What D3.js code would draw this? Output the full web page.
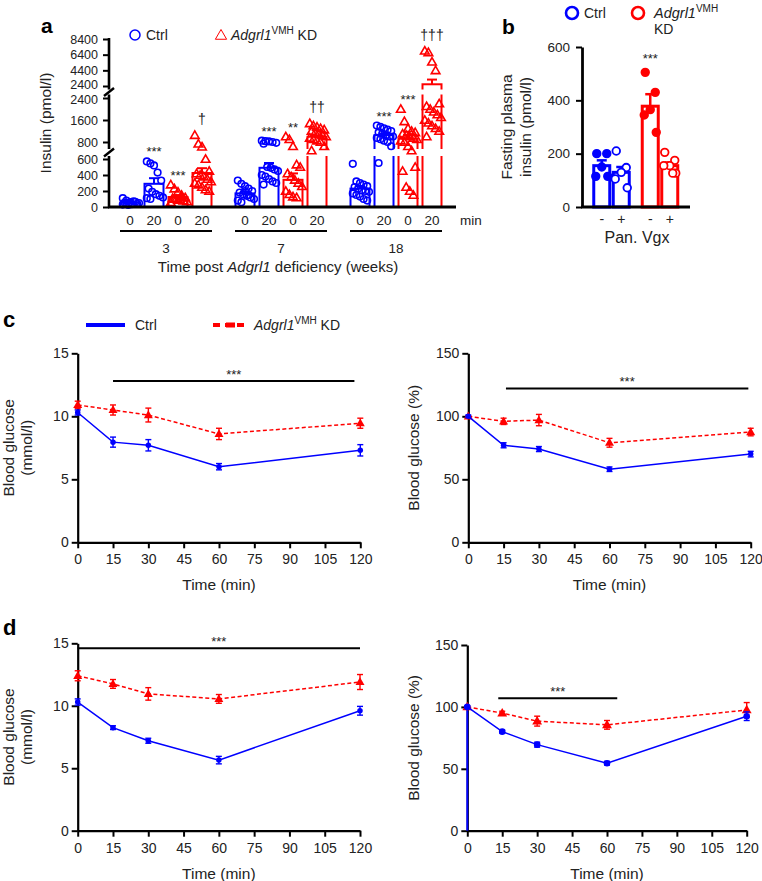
<!DOCTYPE html>
<html><head><meta charset="utf-8">
<script src="https://cdn.jsdelivr.net/npm/d3@7"></script>
<style>body{margin:0;background:#fff} svg{display:block}</style>
</head><body>
<script>
// ================= DATA =================
// Panel a: insulin (pmol/l); order per series: [3w 0min, 3w 20min, 7w 0min, 7w 20min, 18w 0min, 18w 20min]
const aWeeks = ["3", "7", "18"];
const aBars = ["Ctrl 0", "Ctrl 20", "KD 0", "KD 20"];
const aMinLabels = ["0", "20", "0", "20"];
const aTicksLo = [0, 200, 400, 600];
const aTicksMid = [800, 1600, 2400];
const aTicksTop = [2400, 4400, 6400, 8400];
const aCtrlMean = [55, 290, 170, 490, 230, 1050];
const aCtrlSem = [10, 70, 22, 60, 30, 60];
const aKdMean = [125, 425, 340, 990, 920, 2620];
const aKdSem = [22, 60, 80, 50, 130, 600];
const aCtrlPts = [
  [30, 45, 60, 70, 40, 55, 25, 35, 65, 50, 110, 80],
  [570, 545, 520, 430, 330, 230, 190, 160, 140, 120, 110, 100],
  [330, 290, 260, 230, 200, 180, 160, 140, 120, 100, 80, 60, 200, 150],
  [850, 830, 820, 800, 790, 780, 500, 490, 470, 450, 400, 380, 350, 320, 300, 280],
  [540, 320, 300, 280, 260, 250, 230, 210, 200, 190, 170, 150, 130, 100, 80],
  [1400, 1350, 1300, 1250, 1200, 1150, 1100, 1050, 1000, 1000, 950, 900, 850, 800, 750, 550]
];
const aKdPts = [
  [280, 230, 190, 150, 120, 110, 100, 90, 80, 70, 60, 100, 90, 130],
  [1050, 780, 745, 600, 450, 420, 400, 380, 350, 320, 300, 280, 250, 220, 200],
  [1000, 900, 750, 530, 500, 420, 380, 340, 300, 260, 200, 160, 130, 120],
  [1480, 1400, 1350, 1300, 1250, 1200, 1150, 1100, 1050, 1000, 950, 900, 850, 800, 750, 700],
  [2000, 1550, 1300, 1200, 1150, 1100, 1050, 1000, 950, 900, 850, 800, 750, 700, 500, 450, 250, 200, 150],
  [6900, 6700, 5500, 4400, 2200, 2100, 2000, 1900, 1800, 1700, 1600, 1500, 1400, 1300, 1200, 1000]
];
const aCtrlSig = ["", "***", "", "***", "", "***"];
const aKdSig = ["***", "\u2020", "**", "\u2020\u2020", "***", "\u2020\u2020\u2020"];

// Panel b: fasting plasma insulin (pmol/l); [Pan. Vgx -, +]
const bVgx = ["-", "+"];
const bGeno = ["Ctrl", "KD"];
const bTicks = [0, 200, 400, 600];
const bCtrlMean = [155, 130];
const bCtrlSem = [20, 20];
const bKdMean = [378, 155];
const bKdSem = [45, 12];
const bCtrlPts = [[200, 200, 150, 115, 115], [210, 148, 130, 105, 72]];
const bKdPts = [[505, 430, 365, 345, 280], [205, 175, 155, 155, 127, 127]];

// Panels c, d: blood glucose time courses
const times = [0, 15, 30, 60, 120];
const timeTicks = [0, 15, 30, 45, 60, 75, 90, 105, 120];
const absTicks = [0, 5, 10, 15];
const pctTicks = [0, 50, 100, 150];
const cAbsCtrlMean = [10.3, 7.95, 7.7, 6.0, 7.3];
const cAbsCtrlSem = [0.2, 0.4, 0.45, 0.25, 0.45];
const cAbsKdMean = [10.9, 10.5, 10.1, 8.6, 9.45];
const cAbsKdSem = [0.3, 0.4, 0.55, 0.45, 0.4];
const cPctCtrlMean = [100, 77, 74, 58, 70];
const cPctCtrlSem = [1, 2, 2, 1.8, 2.2];
const cPctKdMean = [100, 96, 97, 79, 87.5];
const cPctKdSem = [0.5, 2.5, 4.5, 3.5, 3];
const dAbsCtrlMean = [10.3, 8.25, 7.2, 5.65, 9.6];
const dAbsCtrlSem = [0.25, 0.15, 0.2, 0.3, 0.35];
const dAbsKdMean = [12.4, 11.75, 10.95, 10.55, 11.9];
const dAbsKdSem = [0.4, 0.35, 0.5, 0.35, 0.6];
const dPctCtrlMean = [100, 80, 69.5, 54.5, 92.5];
const dPctCtrlSem = [1, 1.2, 2, 1.5, 3.5];
const dPctKdMean = [100, 95, 88.5, 85.5, 97.5];
const dPctKdSem = [0.5, 1.5, 4, 3.5, 6];
const dPctCtrlT0ErrLow = 100; // lower error extent drawn at t=0 in reference
// significance bars: [from time, to time, level]
const cAbsSig = [15, 117.5, 12.8];
const cPctSig = [16, 119, 122];
const dAbsSig = [0, 120, 14.6];
const dPctSig = [13.3, 64.4, 107];

// ================= DRAW =================
const FONT = '"Liberation Sans", Arial, Helvetica, sans-serif';
const INK = "#222";
const BLUE = "#0000ff", RED = "#ff0000";
const svg = d3.select("body").append("svg").attr("width", 762).attr("height", 881)
  .attr("font-family", FONT);

function txt(g, x, y, s, o = {}) {
  const t = g.append("text").attr("x", x).attr("y", y).text(s)
    .attr("font-size", o.size || 14).attr("text-anchor", o.anchor || "start")
    .attr("fill", INK).attr("font-family", FONT);
  if (o.bold) t.attr("font-weight", "bold").attr("fill", "#000");
  if (o.italic) t.attr("font-style", "italic");
  if (o.rotate) t.attr("transform", `rotate(${o.rotate},${x},${y})`);
  return t;
}
function rich(g, x, y, parts, o = {}) {
  const t = g.append("text").attr("x", x).attr("y", y)
    .attr("font-size", o.size || 14).attr("fill", INK).attr("font-family", FONT)
    .attr("text-anchor", o.anchor || "start");
  if (o.rotate) t.attr("transform", `rotate(${o.rotate},${x},${y})`);
  parts.forEach(p => {
    const ts = t.append("tspan").text(p.t);
    if (p.it) ts.attr("font-style", "italic");
    if (p.sup) ts.attr("font-size", p.size || 10).attr("dy", -6);
    if (p.down) ts.attr("dy", 6);
  });
  return t;
}
function styleAxis(g, size) {
  g.attr("font-family", FONT).attr("font-size", size);
  g.selectAll("text").attr("fill", INK);
  g.selectAll(".tick line").attr("stroke", "#000").attr("stroke-width", 2);
  g.select(".domain").attr("stroke", "#000").attr("stroke-width", 2.2);
}
const tri = d3.symbol().type(d3.symbolTriangle);
const fmtInt = d3.format("d");

// ---------- Panel a ----------
const gA = svg.append("g");
const AX = 109, ABASE = 207;
const yaLo = d3.scaleLinear([0, 600], [207, 159]);
const yaMid = d3.scaleLinear([800, 2400], [142, 98]);
const yaTop = d3.scaleLinear([2400, 8400], [86, 39]);
const ya = d3.scaleLinear().domain([0, 600, 800, 2400, 2400, 8400]).range([207, 159, 142, 98, 86, 39]);
const xaWeek = d3.scaleBand().domain(aWeeks).range([108.5, 453.5]);
const xaBar = d3.scalePoint().domain(aBars).range([-36, 36]);
const barW = 19;
const brk1 = 152.5, brk2 = 92;

[[yaLo, aTicksLo, 0], [yaMid, aTicksMid, 1.2], [yaTop, aTicksTop, -1.2]].forEach(([s, tv, nud]) => {
  const g = gA.append("g").attr("transform", `translate(${AX},0)`)
    .call(d3.axisLeft(s).tickValues(tv).tickFormat(fmtInt).tickSize(6).tickPadding(5).tickSizeOuter(0));
  styleAxis(g, 12.5);
  g.select(".domain").remove();
  g.selectAll(".tick text").filter(d => d === 2400).attr("y", nud);
});
[[ABASE + 1, brk1 + 3.5], [brk1 - 3.5, brk2 + 2.5], [brk2 - 2.5, 38]].forEach(([y1, y2]) => {
  gA.append("line").attr("x1", AX).attr("x2", AX).attr("y1", y1).attr("y2", y2)
    .attr("stroke", "#000").attr("stroke-width", 2.6);
});
[brk1, brk2].forEach(yb => {
  gA.append("line").attr("x1", AX - 5).attr("x2", AX + 5).attr("y1", yb + 4).attr("y2", yb - 4)
    .attr("stroke", "#000").attr("stroke-width", 2.4);
});
// clip for bars (break bands)
const defs = svg.append("defs");
const cp = defs.append("clipPath").attr("id", "aclip");
[[0, brk2 - 2.5], [brk2 + 2.5, brk1 - 3.5], [brk1 + 3.5, 260]].forEach(([y1, y2]) => {
  cp.append("rect").attr("x", 0).attr("y", y1).attr("width", 762).attr("height", y2 - y1);
});

const gBars = gA.append("g").attr("clip-path", "url(#aclip)");
const jit = i => ((i % 5) - 2) * 3.6 + ((Math.floor(i / 5) % 2) ? 1.8 : 0);
aWeeks.forEach((w, wi) => {
  const gc = xaWeek(w) + xaWeek.bandwidth() / 2;
  aBars.forEach((b, bi) => {
    const isCtrl = bi < 2;
    const k = wi * 2 + (bi % 2);
    const mean = isCtrl ? aCtrlMean[k] : aKdMean[k];
    const sem = isCtrl ? aCtrlSem[k] : aKdSem[k];
    const pts = isCtrl ? aCtrlPts[k] : aKdPts[k];
    const sig = isCtrl ? aCtrlSig[k] : aKdSig[k];
    const col = isCtrl ? BLUE : RED;
    const cx = gc + xaBar(b);
    gBars.append("rect").attr("x", cx - barW / 2).attr("y", ya(mean))
      .attr("width", barW).attr("height", ABASE - ya(mean))
      .attr("fill", "white").attr("stroke", col).attr("stroke-width", 2);
    // error bar
    gA.append("line").attr("x1", cx).attr("x2", cx).attr("y1", ya(mean)).attr("y2", ya(mean + sem))
      .attr("stroke", col).attr("stroke-width", 2);
    gA.append("line").attr("x1", cx - 5).attr("x2", cx + 5).attr("y1", ya(mean + sem)).attr("y2", ya(mean + sem))
      .attr("stroke", col).attr("stroke-width", 2);
    // points
    pts.forEach((v, i) => {
      const px = cx + jit(i), py = ya(v);
      if (isCtrl) {
        gA.append("circle").attr("cx", px).attr("cy", py).attr("r", 3.3)
          .attr("fill", "none").attr("stroke", col).attr("stroke-width", 1.6);
      } else {
        gA.append("path").attr("d", tri.size(32)()).attr("transform", `translate(${px},${py + 0.8})`)
          .attr("fill", "none").attr("stroke", col).attr("stroke-width", 1.6);
      }
    });
    if (sig) {
      const top = ya(d3.max(pts));
      const dag = sig.indexOf("\u2020") >= 0;
      txt(gA, cx, top - (dag ? 11 : 5), sig, { size: dag ? 14 : 13, anchor: "middle" });
    }
    txt(gA, cx, 225, aMinLabels[bi], { size: 13.5, anchor: "middle" });
  });
  gA.append("line").attr("x1", gc - 46).attr("x2", gc + 46).attr("y1", 231).attr("y2", 231)
    .attr("stroke", "#000").attr("stroke-width", 2);
  txt(gA, gc, 253, w, { size: 13.5, anchor: "middle" });
});
gA.append("line").attr("x1", AX - 1).attr("x2", 456).attr("y1", ABASE).attr("y2", ABASE)
  .attr("stroke", "#000").attr("stroke-width", 3);
txt(gA, 460, 225, "min", { size: 13.5 });
rich(gA, 278, 272, [{ t: "Time post " }, { t: "Adgrl1", it: true }, { t: " deficiency (weeks)" }], { size: 15, anchor: "middle" });
txt(gA, 51, 123, "Insulin (pmol/l)", { size: 15.5, anchor: "middle", rotate: -90 });
txt(gA, 41, 33, "a", { size: 21, bold: true });
// legend a
gA.append("circle").attr("cx", 135).attr("cy", 35).attr("r", 5).attr("fill", "none").attr("stroke", BLUE).attr("stroke-width", 1.5);
txt(gA, 146, 40, "Ctrl", { size: 14 });
gA.append("path").attr("d", tri.size(55)()).attr("transform", "translate(221,36)").attr("fill", "none").attr("stroke", RED).attr("stroke-width", 1);
rich(gA, 231, 40, [{ t: "Adgrl1", it: true }, { t: "VMH", sup: true }, { t: " KD", down: true }], { size: 14 });

// ---------- Panel b ----------
const gB = svg.append("g");
const BX = 582;
const yb = d3.scaleLinear([0, 600], [207, 47]);
const xbGeno = d3.scalePoint().domain(bGeno).range([611.5, 660]);
const xbVgx = d3.scalePoint().domain(bVgx).range([-9.75, 9.75]);
const bBarW = 16;
{
  const g = gB.append("g").attr("transform", `translate(${BX},0)`)
    .call(d3.axisLeft(yb).tickValues(bTicks).tickSize(6).tickPadding(6).tickSizeOuter(0));
  styleAxis(g, 13.5);
  g.select(".domain").attr("stroke-width", 2.8);
}
bGeno.forEach(gname => {
  const isCtrl = gname === "Ctrl";
  const col = isCtrl ? BLUE : RED;
  bVgx.forEach((v, vi) => {
    const mean = isCtrl ? bCtrlMean[vi] : bKdMean[vi];
    const sem = isCtrl ? bCtrlSem[vi] : bKdSem[vi];
    const pts = isCtrl ? bCtrlPts[vi] : bKdPts[vi];
    const cx = xbGeno(gname) + xbVgx(v);
    gB.append("rect").attr("x", cx - bBarW / 2).attr("y", yb(mean)).attr("width", bBarW)
      .attr("height", yb(0) - yb(mean)).attr("fill", "white").attr("stroke", col).attr("stroke-width", 3);
    gB.append("line").attr("x1", cx).attr("x2", cx).attr("y1", yb(mean)).attr("y2", yb(mean + sem))
      .attr("stroke", col).attr("stroke-width", 2.5);
    gB.append("line").attr("x1", cx - 5).attr("x2", cx + 5).attr("y1", yb(mean + sem)).attr("y2", yb(mean + sem))
      .attr("stroke", col).attr("stroke-width", 2.5);
    const off = [-5, 5, 0, -6, 6, 3];
    pts.forEach((p, i) => {
      gB.append("circle").attr("cx", cx + off[i % off.length]).attr("cy", yb(p)).attr("r", 3.8)
        .attr("fill", vi === 0 ? col : "white").attr("stroke", col).attr("stroke-width", 1.8);
    });
    txt(gB, cx, 224, v, { size: 14, anchor: "middle" });
  });
});
gB.append("line").attr("x1", BX - 1).attr("x2", 690).attr("y1", yb(0)).attr("y2", yb(0))
  .attr("stroke", "#000").attr("stroke-width", 2.8);
txt(gB, xbGeno("KD") + xbVgx("-"), yb(d3.max(bKdPts[0])) - 9, "***", { size: 13, anchor: "middle" });
txt(gB, 637, 243, "Pan. Vgx", { size: 16, anchor: "middle" });
txt(gB, 512, 127, "Fasting plasma", { size: 15.5, anchor: "middle", rotate: -90 });
txt(gB, 531, 127, "insulin (pmol/l)", { size: 15.5, anchor: "middle", rotate: -90 });
txt(gB, 502, 34, "b", { size: 21, bold: true });
gB.append("circle").attr("cx", 572).attr("cy", 13).attr("r", 6).attr("fill", "none").attr("stroke", BLUE).attr("stroke-width", 2.6);
txt(gB, 584, 18, "Ctrl", { size: 14 });
gB.append("circle").attr("cx", 638).attr("cy", 13).attr("r", 6).attr("fill", "none").attr("stroke", RED).attr("stroke-width", 2.6);
rich(gB, 654, 18, [{ t: "Adgrl1", it: true }, { t: "VMH", sup: true }], { size: 14.5 });
txt(gB, 654, 34, "KD", { size: 14 });

// ---------- Panels c, d ----------
function linePanel(o) {
  const g = svg.append("g");
  const x = d3.scaleLinear([0, 120], [o.x0, o.x1]);
  const y = d3.scaleLinear(o.yDomain, [o.y0, o.y1]);
  const gx = g.append("g").attr("transform", `translate(0,${o.y0})`)
    .call(d3.axisBottom(x).tickValues(timeTicks).tickSize(6).tickPadding(6).tickSizeOuter(0));
  styleAxis(gx, 14);
  const gy = g.append("g").attr("transform", `translate(${o.x0},0)`)
    .call(d3.axisLeft(y).tickValues(o.yTicks).tickSize(6).tickPadding(3).tickSizeOuter(0));
  styleAxis(gy, 14);
  txt(g, (o.x0 + o.x1) / 2, o.y0 + 48, "Time (min)", { size: 15.5, anchor: "middle" });
  const yc = (o.y0 + o.y1) / 2;
  o.ytitle.forEach((s, i) => txt(g, o.ytx[i], yc, s, { size: 15.5, anchor: "middle", rotate: -90 }));
  // significance
  const [s0, s1, sl] = o.sig;
  g.append("line").attr("x1", x(s0)).attr("x2", x(s1)).attr("y1", y(sl)).attr("y2", y(sl))
    .attr("stroke", "#000").attr("stroke-width", 2);
  txt(g, (x(s0) + x(s1)) / 2, y(sl) - 2.5, "***", { size: 13, anchor: "middle" });
  if (o.extraLow) {
    g.append("line").attr("x1", x(0)).attr("x2", x(0)).attr("y1", y(o.ctrlMean[0])).attr("y2", y(o.ctrlMean[0] - o.extraLow))
      .attr("stroke", BLUE).attr("stroke-width", 2);
  }
  const series = [
    { m: o.kdMean, s: o.kdSem, col: RED, dash: "4,2.5", kd: true },
    { m: o.ctrlMean, s: o.ctrlSem, col: BLUE, dash: null, kd: false }
  ];
  series.forEach(sr => {
    const line = d3.line().x((d, i) => x(times[i])).y(d => y(d));
    g.append("path").attr("d", line(sr.m)).attr("fill", "none").attr("stroke", sr.col)
      .attr("stroke-width", 1.5).attr("stroke-dasharray", sr.dash);
    sr.m.forEach((v, i) => {
      const cx = x(times[i]);
      const lo = y(v - sr.s[i]), hi = y(v + sr.s[i]);
      g.append("line").attr("x1", cx).attr("x2", cx).attr("y1", lo).attr("y2", hi).attr("stroke", sr.col).attr("stroke-width", 1.4);
      [lo, hi].forEach(yy => g.append("line").attr("x1", cx - 3).attr("x2", cx + 3).attr("y1", yy).attr("y2", yy)
        .attr("stroke", sr.col).attr("stroke-width", 1.4));
      if (sr.kd) {
        g.append("path").attr("d", tri.size(o.mk * 7)()).attr("transform", `translate(${cx},${y(v) + 0.5})`).attr("fill", sr.col);
      } else {
        g.append("circle").attr("cx", cx).attr("cy", y(v)).attr("r", o.mk * 0.55).attr("fill", sr.col);
      }
    });
  });
}
linePanel({ x0: 77.7, x1: 360.3, y0: 542.3, y1: 353.3, yDomain: [0, 15], yTicks: absTicks,
  ctrlMean: cAbsCtrlMean, ctrlSem: cAbsCtrlSem, kdMean: cAbsKdMean, kdSem: cAbsKdSem,
  sig: cAbsSig, ytitle: ["Blood glucose", "(mmol/l)"], ytx: [14, 32], mk: 5 });
linePanel({ x0: 468.3, x1: 750.7, y0: 542.3, y1: 353.3, yDomain: [0, 150], yTicks: pctTicks,
  ctrlMean: cPctCtrlMean, ctrlSem: cPctCtrlSem, kdMean: cPctKdMean, kdSem: cPctKdSem,
  sig: cPctSig, ytitle: ["Blood glucose (%)"], ytx: [419], mk: 5 });
linePanel({ x0: 77.7, x1: 360, y0: 830.7, y1: 643.3, yDomain: [0, 15], yTicks: absTicks,
  ctrlMean: dAbsCtrlMean, ctrlSem: dAbsCtrlSem, kdMean: dAbsKdMean, kdSem: dAbsKdSem,
  sig: dAbsSig, ytitle: ["Blood glucose", "(mmol/l)"], ytx: [14, 32], mk: 5 });
linePanel({ x0: 467.3, x1: 746.7, y0: 830.7, y1: 645, yDomain: [0, 150], yTicks: pctTicks,
  ctrlMean: dPctCtrlMean, ctrlSem: dPctCtrlSem, kdMean: dPctKdMean, kdSem: dPctKdSem,
  sig: dPctSig, ytitle: ["Blood glucose (%)"], ytx: [419], mk: 6, extraLow: dPctCtrlT0ErrLow });

// legend c and panel letters
const gL = svg.append("g");
txt(gL, 3, 327, "c", { size: 22, bold: true });
txt(gL, 3, 635, "d", { size: 22, bold: true });
gL.append("line").attr("x1", 86).attr("x2", 125).attr("y1", 325).attr("y2", 325).attr("stroke", BLUE).attr("stroke-width", 4);
txt(gL, 135, 330, "Ctrl", { size: 14 });
gL.append("line").attr("x1", 213).attr("x2", 248).attr("y1", 325).attr("y2", 325).attr("stroke", RED).attr("stroke-width", 4).attr("stroke-dasharray", "7,5");
gL.append("rect").attr("x", 226).attr("y", 322.5).attr("width", 9).attr("height", 5).attr("fill", RED);
rich(gL, 254, 330, [{ t: "Adgrl1", it: true }, { t: "VMH", sup: true }, { t: " KD", down: true }], { size: 14 });
</script>
</body></html>
